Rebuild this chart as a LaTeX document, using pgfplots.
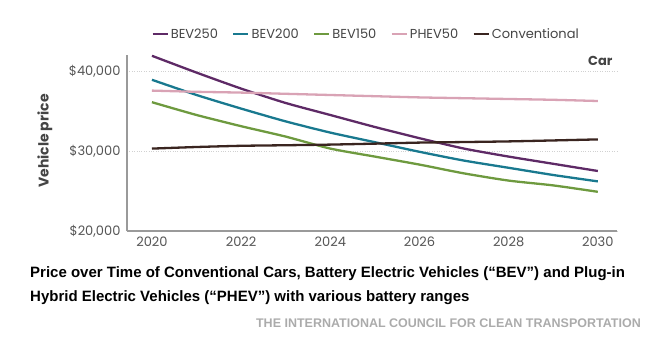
\documentclass[border=0pt]{standalone}
\usepackage{pgfplots}
\pgfplotsset{compat=1.18}
\usepackage{fontspec}
\setmainfont{Poppins}
\newfontfamily\capfont{Liberation Sans}
\definecolor{cbev250}{HTML}{5E2A66}
\definecolor{cbev200}{HTML}{19798F}
\definecolor{cbev150}{HTML}{6E9A3F}
\definecolor{cphev}{HTML}{D9A3B5}
\definecolor{cconv}{HTML}{3A2520}
\definecolor{axgray}{HTML}{9A9A9A}
\definecolor{ticktext}{HTML}{555555}
\definecolor{labtext}{HTML}{444444}
\definecolor{icct}{HTML}{ABABAB}
\begin{document}
\begin{tikzpicture}
\useasboundingbox (0,0) rectangle (663pt,-350pt);
\begin{axis}[
  at={(127pt,-231pt)}, anchor=south west,
  scale only axis, width=490pt, height=176pt,
  xmin=2019.44, xmax=2030.43, ymin=20000, ymax=42000,
  axis x line*=bottom, axis y line*=left,
  axis line style={axgray, line width=1.2pt},
  x axis line style={-}, y axis line style={-},
  xtick={2020,2022,...,2030},
  xticklabels={2020,2022,2024,2026,2028,2030},
  ytick={20000,30000,40000},
  yticklabels={{\$20,000},{\$30,000},{\$40,000}},
  scaled ticks=false,
  major tick length=0pt,
  ymajorgrids, grid style={dotted, line width=0.8pt, black!18},
  tick label style={font=\fontsize{13}{15}\selectfont, text=ticktext},
  xticklabel style={yshift=-2pt},
  yticklabel style={xshift=-3pt},
  /pgf/number format/assume math mode=true,
  clip=false,
  legend columns=-1,
  legend style={at={(151pt-127pt,231pt-34pt)}, anchor=west, draw=none, fill=none,
    font=\fontsize{13}{15}\selectfont, text=labtext,
    /tikz/every even column/.append style={column sep=12pt},
    inner sep=0pt},
  legend image code/.code={\draw[line width=2.6pt] (0pt,0pt) -- (15pt,0pt);},
  every axis plot/.append style={line width=2.3pt, smooth, tension=0.4},
]
\addplot[cbev250] coordinates {(2020,41900)(2021,39800)(2022,37800)(2023,36000)(2024,34500)(2025,33000)(2026,31600)(2027,30300)(2028,29300)(2029,28400)(2030,27500)};
\addlegendentry{BEV250}
\addplot[cbev200] coordinates {(2020,38900)(2021,37000)(2022,35300)(2023,33700)(2024,32300)(2025,31100)(2026,29900)(2027,28800)(2028,27900)(2029,27000)(2030,26200)};
\addlegendentry{BEV200}
\addplot[cbev150] coordinates {(2020,36100)(2021,34500)(2022,33100)(2023,31800)(2024,30300)(2025,29300)(2026,28300)(2027,27200)(2028,26300)(2029,25700)(2030,24900)};
\addlegendentry{BEV150}
\addplot[cphev] coordinates {(2020,37550)(2021,37400)(2022,37300)(2023,37150)(2024,37000)(2025,36850)(2026,36700)(2027,36600)(2028,36500)(2029,36400)(2030,36250)};
\addlegendentry{PHEV50}
\addplot[cconv] coordinates {(2020,30300)(2021,30500)(2022,30650)(2023,30720)(2024,30800)(2025,30920)(2026,31050)(2027,31120)(2028,31200)(2029,31320)(2030,31450)};
\addlegendentry{Conventional}
\end{axis}
\node[rotate=90, text=labtext, font=\fontsize{14}{16}\selectfont\bfseries] at (45pt,-141pt) {Vehicle price};
\node[anchor=east, text=labtext, font=\fontsize{13}{15}\selectfont\bfseries] at (616pt,-61pt) {Car};
\node[anchor=north west, align=left, inner sep=0pt, font=\capfont\bfseries\fontsize{15}{24}\selectfont] at (30pt,-266pt)
  {Price over Time of Conventional Cars, Battery Electric Vehicles (“BEV”) and Plug-in\\Hybrid Electric Vehicles (“PHEV”) with various battery ranges};
\node[anchor=east, inner sep=0pt, text=icct, font=\capfont\bfseries\fontsize{12.5}{14}\selectfont] at (641pt,-323pt)
  {THE INTERNATIONAL COUNCIL FOR CLEAN TRANSPORTATION};
\end{tikzpicture}
\end{document}
